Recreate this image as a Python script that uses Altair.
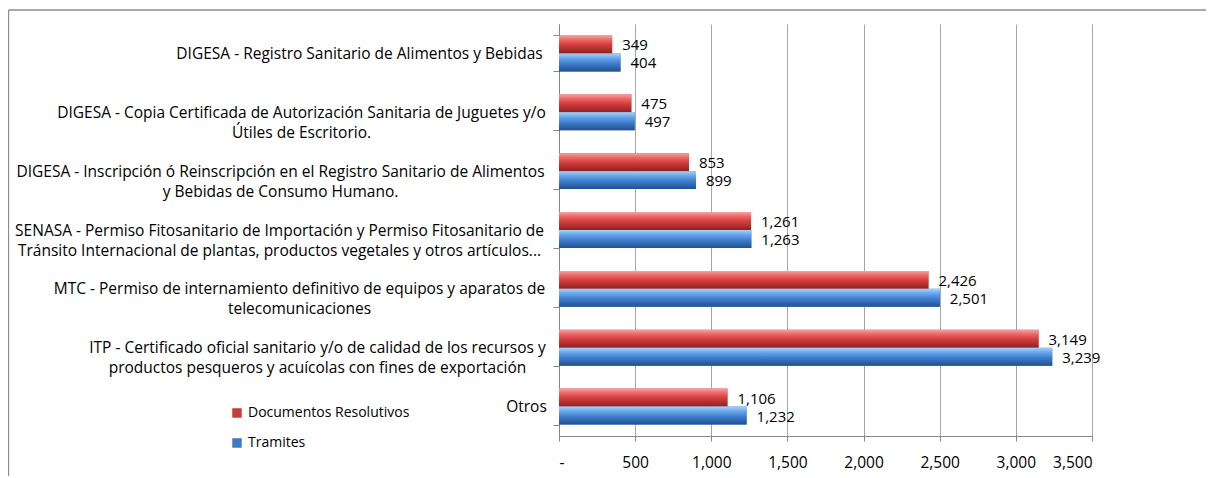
import altair as alt
import pandas as pd

FONT = "Open Sans"

categorias = [
    "DIGESA - Registro Sanitario de Alimentos  y  Bebidas",
    "DIGESA - Copia Certificada de Autorización Sanitaria de Juguetes y/o|Útiles de Escritorio.",
    "DIGESA - Inscripción ó Reinscripción en el Registro Sanitario de Alimentos|y Bebidas de Consumo Humano.",
    "SENASA - Permiso Fitosanitario de Importación y Permiso Fitosanitario de|Tránsito Internacional de plantas, productos vegetales y otros artículos...",
    "MTC - Permiso de internamiento definitivo de equipos y aparatos de|telecomunicaciones",
    "ITP - Certificado oficial sanitario y/o de calidad de los recursos y|productos pesqueros y acuícolas con fines de exportación",
    "Otros",
]
series = ["Documentos Resolutivos", "Tramites"]
documentos = [349, 475, 853, 1261, 2426, 3149, 1106]
tramites = [404, 497, 899, 1263, 2501, 3239, 1232]
x_ticks = [0, 500, 1000, 1500, 2000, 2500, 3000, 3500]

# distance from the axis to the centre of each (centred, multi-line) label block
label_centre_pad = [194, 252, 273, 274, 254, 236, 27]

rows = []
for c, d, t in zip(categorias, documentos, tramites):
    rows.append({"categoria": c, "serie": series[0], "valor": d})
    rows.append({"categoria": c, "serie": series[1], "valor": t})
df = pd.DataFrame(rows)

red_grad = {
    "gradient": "linear", "x1": 0, "y1": 0, "x2": 0, "y2": 1,
    "stops": [
        {"offset": 0, "color": "#f6a3a3"},
        {"offset": 0.25, "color": "#ec6565"},
        {"offset": 0.55, "color": "#d23a3a"},
        {"offset": 1, "color": "#8c2222"},
    ],
}
blue_grad = {
    "gradient": "linear", "x1": 0, "y1": 0, "x2": 0, "y2": 1,
    "stops": [
        {"offset": 0, "color": "#a9d2f7"},
        {"offset": 0.25, "color": "#6aa8ec"},
        {"offset": 0.55, "color": "#3f7fd0"},
        {"offset": 1, "color": "#234f8c"},
    ],
}

pad_condition = {
    "condition": [
        {"test": "datum.value == " + repr(c), "value": p}
        for c, p in zip(categorias, label_centre_pad)
    ],
    "value": 8,
}

base = alt.Chart(df).encode(
    y=alt.Y(
        "categoria:N",
        sort=categorias,
        scale=alt.Scale(paddingInner=0.39, paddingOuter=0.195),
        axis=alt.Axis(
            title=None,
            labelExpr="split(datum.label, '|')",
            labelAlign="center",
            labelBaseline="middle",
            labelPadding=pad_condition,
            labelLimit=700,
            labelFont=FONT,
            labelFontSize=15.5,
            labelLineHeight=20,
            labelColor="#000000",
            labelOverlap=False,
            labelBound=False,
            tickSize=6,
            tickBand="extent",
            tickColor="#868686",
            domainColor="#868686",
            grid=False,
        ),
    ),
    yOffset=alt.YOffset("serie:N", sort=series, scale=alt.Scale(paddingInner=0, paddingOuter=0)),
    x=alt.X(
        "valor:Q",
        scale=alt.Scale(domain=[0, 3500], nice=False),
        axis=alt.Axis(
            title=None,
            values=x_ticks,
            labelExpr="datum.value == 0 ? '-' : format(datum.value, ',')",
            labelFont=FONT,
            labelFontSize=15.5,
            labelColor="#000000",
            labelPadding=14,
            tickSize=5,
            tickColor="#868686",
            domainColor="#868686",
            grid=True,
            gridColor="#a6a6a6",
            gridWidth=1,
        ),
    ),
)

legend_bars = base.mark_bar().encode(
    color=alt.Color(
        "serie:N",
        sort=series,
        scale=alt.Scale(domain=series, range=["#c43c3c", "#3f78c6"]),
        legend=alt.Legend(
            title=None,
            orient="none",
            legendX=-329,
            legendY=382,
            symbolType="square",
            symbolSize=90,
            symbolStrokeWidth=0,
            labelFont=FONT,
            labelFontSize=14,
            labelColor="#000000",
            labelOffset=4,
            labelLimit=300,
            rowPadding=16,
            padding=0,
        ),
    )
)

grad_bars = base.mark_bar().encode(
    color=alt.condition(alt.datum.serie == series[0], alt.value(red_grad), alt.value(blue_grad))
)

labels = base.mark_text(
    align="left", baseline="middle", dx=10, dy=1, font=FONT, fontSize=15, color="#000000"
).encode(text=alt.Text("valor:Q", format=","))

frame_src = alt.Chart(pd.DataFrame({"a": [0]}))
frame_top = frame_src.mark_rule(color="#8c8c8c", strokeWidth=1.3).encode(
    x=alt.value(-550.5), x2=alt.value(660), y=alt.value(-14)
)
frame_left = frame_src.mark_rule(color="#8c8c8c", strokeWidth=1.3).encode(
    x=alt.value(-550.5), y=alt.value(-14), y2=alt.value(470)
)

chart = alt.layer(frame_top, frame_left, legend_bars, grad_bars, labels).properties(
    width=533,
    height=412,
    padding={"left": 551, "top": 16, "right": 114, "bottom": 40},
    autosize=alt.AutoSizeParams(type="none"),
).configure_view(stroke=None)

chart.save("out.html", embed_options={"renderer": "svg", "actions": False})
